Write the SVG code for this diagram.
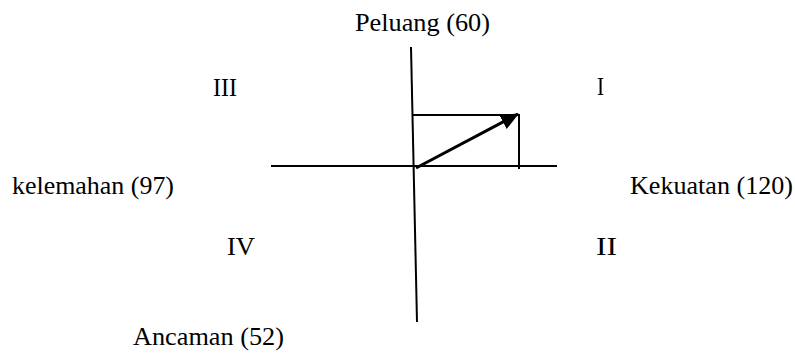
<svg xmlns="http://www.w3.org/2000/svg" width="795" height="356" viewBox="0 0 795 356">
<style>
.ln{stroke:#000;stroke-width:2;fill:none}
.arrow{stroke:#000;stroke-width:3;fill:none}
.t{font-family:"Liberation Serif","Times New Roman","DejaVu Serif",serif;font-size:25px;fill:#000}
</style>
<defs>
<marker id="ah" markerUnits="userSpaceOnUse" markerWidth="20" markerHeight="16" refX="17" refY="8" orient="auto">
<path d="M0,0 L18,8 L0,16 Z" fill="#000"/>
</marker>
</defs>
<rect width="795" height="356" fill="#fff"/>
<g id="connectors">
<line class="ln" x1="411" y1="47" x2="417" y2="322"/>
<line class="ln" x1="271" y1="166" x2="557" y2="166"/>
<polyline class="ln" points="412,115 519,115 519,169"/>
<line class="arrow" x1="416" y1="168" x2="518" y2="114" marker-end="url(#ah)"/>
</g>
<g id="peluang"><text class="t" x="355" y="31" textLength="135" lengthAdjust="spacingAndGlyphs">Peluang (60)</text></g>
<g id="q3"><text class="t" x="213" y="96" textLength="24" lengthAdjust="spacingAndGlyphs">III</text></g>
<g id="q1"><text class="t" x="597" y="95" textLength="7" lengthAdjust="spacingAndGlyphs">I</text></g>
<g id="kelemahan"><text class="t" x="12" y="194" textLength="162" lengthAdjust="spacingAndGlyphs">kelemahan (97)</text></g>
<g id="kekuatan"><text class="t" x="630" y="194" textLength="163" lengthAdjust="spacingAndGlyphs">Kekuatan (120)</text></g>
<g id="q4"><text class="t" x="227" y="255" textLength="28" lengthAdjust="spacingAndGlyphs">IV</text></g>
<g id="q2"><text class="t" x="596" y="255" textLength="21" lengthAdjust="spacingAndGlyphs">II</text></g>
<g id="ancaman"><text class="t" x="133" y="345" textLength="151" lengthAdjust="spacingAndGlyphs">Ancaman (52)</text></g>
</svg>
